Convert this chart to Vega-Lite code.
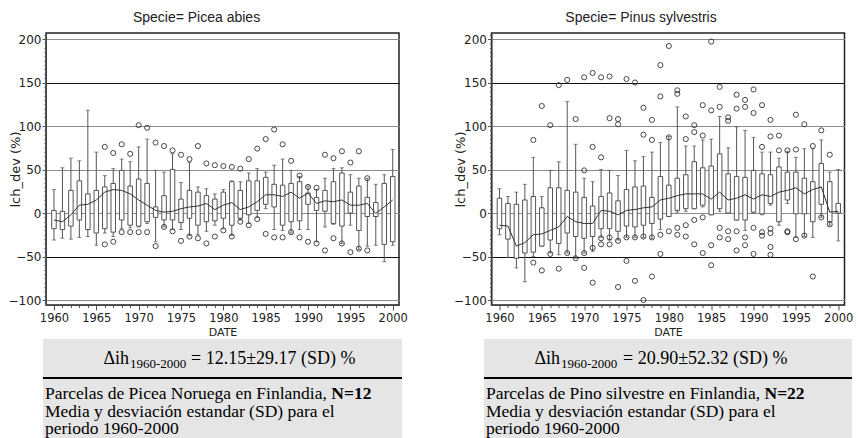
{
  "$schema": "https://vega.github.io/schema/vega-lite/v6.json",
  "background": "white",
  "padding": {"left": 7, "top": 10, "right": 2, "bottom": 0},
  "config": {
    "view": {"stroke": "#222", "strokeWidth": 1.5},
    "axis": {"labelFont": "DejaVu Sans", "labelFontSize": 12, "labelColor": "#222", "titleFont": "DejaVu Sans", "titleFontWeight": "normal", "titleColor": "#222", "tickColor": "#555", "domainColor": "#444"},
    "axisY": {"labelOverlap": false, "labelFlush": false},
    "title": {"font": "Liberation Sans", "fontSize": 14, "fontWeight": "normal", "color": "#222"}
  },
  "datasets": {
    "boxes": [
      {"sp":"Picea abies","year":1960,"lo":-31,"q1":-18,"q3":3,"hi":27,"mean":-8},
      {"sp":"Picea abies","year":1961,"lo":-29,"q1":-19,"q3":2,"hi":52,"mean":-10},
      {"sp":"Picea abies","year":1962,"lo":-30,"q1":-15,"q3":26,"hi":63,"mean":-2},
      {"sp":"Picea abies","year":1963,"lo":-28,"q1":-8,"q3":37,"hi":60,"mean":9},
      {"sp":"Picea abies","year":1964,"lo":-27,"q1":-19,"q3":22,"hi":118,"mean":10},
      {"sp":"Picea abies","year":1965,"lo":-37,"q1":-23,"q3":26,"hi":70,"mean":15},
      {"sp":"Picea abies","year":1966,"lo":-23,"q1":-18,"q3":30,"hi":43,"mean":24},
      {"sp":"Picea abies","year":1967,"lo":-27,"q1":-22,"q3":34,"hi":51,"mean":27},
      {"sp":"Picea abies","year":1968,"lo":-18,"q1":-8,"q3":49,"hi":62,"mean":26},
      {"sp":"Picea abies","year":1969,"lo":-17,"q1":-14,"q3":31,"hi":59,"mean":22},
      {"sp":"Picea abies","year":1970,"lo":-16,"q1":-15,"q3":39,"hi":76,"mean":15},
      {"sp":"Picea abies","year":1971,"lo":-12,"q1":-10,"q3":34,"hi":85,"mean":9},
      {"sp":"Picea abies","year":1972,"lo":-33,"q1":-5,"q3":7,"hi":49,"mean":3},
      {"sp":"Picea abies","year":1973,"lo":-16,"q1":-8,"q3":20,"hi":47,"mean":1},
      {"sp":"Picea abies","year":1974,"lo":-19,"q1":-8,"q3":50,"hi":68,"mean":2},
      {"sp":"Picea abies","year":1975,"lo":-19,"q1":-11,"q3":16,"hi":35,"mean":5},
      {"sp":"Picea abies","year":1976,"lo":-26,"q1":-6,"q3":26,"hi":58,"mean":7},
      {"sp":"Picea abies","year":1977,"lo":-25,"q1":-14,"q3":24,"hi":30,"mean":8},
      {"sp":"Picea abies","year":1978,"lo":-21,"q1":-10,"q3":20,"hi":28,"mean":11},
      {"sp":"Picea abies","year":1979,"lo":-14,"q1":-9,"q3":16,"hi":22,"mean":4},
      {"sp":"Picea abies","year":1980,"lo":-18,"q1":-6,"q3":24,"hi":27,"mean":9},
      {"sp":"Picea abies","year":1981,"lo":-26,"q1":-14,"q3":36,"hi":37,"mean":12},
      {"sp":"Picea abies","year":1982,"lo":-8,"q1":-6,"q3":26,"hi":36,"mean":4},
      {"sp":"Picea abies","year":1983,"lo":-12,"q1":-2,"q3":37,"hi":46,"mean":7},
      {"sp":"Picea abies","year":1984,"lo":-5,"q1":3,"q3":37,"hi":51,"mean":13},
      {"sp":"Picea abies","year":1985,"lo":5,"q1":10,"q3":41,"hi":47,"mean":21},
      {"sp":"Picea abies","year":1986,"lo":-19,"q1":7,"q3":33,"hi":55,"mean":21},
      {"sp":"Picea abies","year":1987,"lo":-20,"q1":-14,"q3":32,"hi":62,"mean":19},
      {"sp":"Picea abies","year":1988,"lo":-23,"q1":-10,"q3":34,"hi":49,"mean":24},
      {"sp":"Picea abies","year":1989,"lo":-19,"q1":-9,"q3":36,"hi":42,"mean":17},
      {"sp":"Picea abies","year":1990,"lo":-19,"q1":10,"q3":23,"hi":31,"mean":23},
      {"sp":"Picea abies","year":1991,"lo":-33,"q1":3,"q3":18,"hi":27,"mean":11},
      {"sp":"Picea abies","year":1992,"lo":-16,"q1":2,"q3":26,"hi":40,"mean":14},
      {"sp":"Picea abies","year":1993,"lo":-13,"q1":-12,"q3":36,"hi":51,"mean":13},
      {"sp":"Picea abies","year":1994,"lo":-35,"q1":-15,"q3":46,"hi":52,"mean":15},
      {"sp":"Picea abies","year":1995,"lo":-14,"q1":0,"q3":24,"hi":44,"mean":9},
      {"sp":"Picea abies","year":1996,"lo":-42,"q1":-20,"q3":31,"hi":40,"mean":9},
      {"sp":"Picea abies","year":1997,"lo":-38,"q1":-4,"q3":18,"hi":40,"mean":11},
      {"sp":"Picea abies","year":1998,"lo":-37,"q1":-4,"q3":12,"hi":33,"mean":-0.5},
      {"sp":"Picea abies","year":1999,"lo":-56,"q1":-36,"q3":34,"hi":44,"mean":7},
      {"sp":"Picea abies","year":2000,"lo":-37,"q1":-33,"q3":42,"hi":73,"mean":15},
      {"sp":"Pinus sylvestris","year":1960,"lo":-25,"q1":-18,"q3":17,"hi":28,"mean":-14},
      {"sp":"Pinus sylvestris","year":1961,"lo":-51,"q1":-30,"q3":11,"hi":19,"mean":-15},
      {"sp":"Pinus sylvestris","year":1962,"lo":-63,"q1":-52,"q3":10,"hi":24,"mean":-38},
      {"sp":"Pinus sylvestris","year":1963,"lo":-79,"q1":-46,"q3":15,"hi":33,"mean":-34},
      {"sp":"Pinus sylvestris","year":1964,"lo":-50,"q1":-45,"q3":19,"hi":64,"mean":-25},
      {"sp":"Pinus sylvestris","year":1965,"lo":-38,"q1":-38,"q3":6,"hi":19,"mean":-24},
      {"sp":"Pinus sylvestris","year":1966,"lo":-46,"q1":-31,"q3":29,"hi":49,"mean":-20},
      {"sp":"Pinus sylvestris","year":1967,"lo":-48,"q1":-35,"q3":29,"hi":59,"mean":-16},
      {"sp":"Pinus sylvestris","year":1968,"lo":-46,"q1":-23,"q3":26,"hi":128,"mean":-4},
      {"sp":"Pinus sylvestris","year":1969,"lo":-52,"q1":-27,"q3":24,"hi":79,"mean":-10},
      {"sp":"Pinus sylvestris","year":1970,"lo":-46,"q1":-29,"q3":18,"hi":40,"mean":-12},
      {"sp":"Pinus sylvestris","year":1971,"lo":-44,"q1":-27,"q3":8,"hi":36,"mean":-12},
      {"sp":"Pinus sylvestris","year":1972,"lo":-28,"q1":-18,"q3":19,"hi":50,"mean":3},
      {"sp":"Pinus sylvestris","year":1973,"lo":-31,"q1":-18,"q3":23,"hi":49,"mean":2},
      {"sp":"Pinus sylvestris","year":1974,"lo":-31,"q1":-21,"q3":14,"hi":43,"mean":-2},
      {"sp":"Pinus sylvestris","year":1975,"lo":-28,"q1":-15,"q3":27,"hi":72,"mean":3},
      {"sp":"Pinus sylvestris","year":1976,"lo":-28,"q1":-16,"q3":30,"hi":60,"mean":4},
      {"sp":"Pinus sylvestris","year":1977,"lo":-28,"q1":-14,"q3":31,"hi":65,"mean":6},
      {"sp":"Pinus sylvestris","year":1978,"lo":-29,"q1":-12,"q3":18,"hi":70,"mean":7},
      {"sp":"Pinus sylvestris","year":1979,"lo":-19,"q1":-7,"q3":42,"hi":81,"mean":15},
      {"sp":"Pinus sylvestris","year":1980,"lo":-4,"q1":-4,"q3":32,"hi":88,"mean":17},
      {"sp":"Pinus sylvestris","year":1981,"lo":1,"q1":3,"q3":40,"hi":122,"mean":20},
      {"sp":"Pinus sylvestris","year":1982,"lo":2,"q1":5,"q3":44,"hi":77,"mean":22},
      {"sp":"Pinus sylvestris","year":1983,"lo":5,"q1":5,"q3":59,"hi":77,"mean":22},
      {"sp":"Pinus sylvestris","year":1984,"lo":7,"q1":9,"q3":52,"hi":84,"mean":22},
      {"sp":"Pinus sylvestris","year":1985,"lo":-2,"q1":-2,"q3":54,"hi":85,"mean":16},
      {"sp":"Pinus sylvestris","year":1986,"lo":2,"q1":5,"q3":68,"hi":111,"mean":24},
      {"sp":"Pinus sylvestris","year":1987,"lo":0,"q1":0,"q3":45,"hi":75,"mean":15},
      {"sp":"Pinus sylvestris","year":1988,"lo":-8,"q1":-8,"q3":42,"hi":99,"mean":17},
      {"sp":"Pinus sylvestris","year":1989,"lo":-20,"q1":-8,"q3":41,"hi":95,"mean":21},
      {"sp":"Pinus sylvestris","year":1990,"lo":0,"q1":1,"q3":49,"hi":87,"mean":16},
      {"sp":"Pinus sylvestris","year":1991,"lo":-2,"q1":-1,"q3":45,"hi":70,"mean":21},
      {"sp":"Pinus sylvestris","year":1992,"lo":9,"q1":11,"q3":44,"hi":70,"mean":19},
      {"sp":"Pinus sylvestris","year":1993,"lo":-14,"q1":-10,"q3":53,"hi":63,"mean":24},
      {"sp":"Pinus sylvestris","year":1994,"lo":11,"q1":15,"q3":47,"hi":71,"mean":26},
      {"sp":"Pinus sylvestris","year":1995,"lo":-28,"q1":-1,"q3":47,"hi":64,"mean":29},
      {"sp":"Pinus sylvestris","year":1996,"lo":-27,"q1":-1,"q3":40,"hi":74,"mean":22},
      {"sp":"Pinus sylvestris","year":1997,"lo":-28,"q1":-10,"q3":36,"hi":74,"mean":27},
      {"sp":"Pinus sylvestris","year":1998,"lo":-5,"q1":10,"q3":57,"hi":84,"mean":30},
      {"sp":"Pinus sylvestris","year":1999,"lo":-14,"q1":-10,"q3":36,"hi":47,"mean":1},
      {"sp":"Pinus sylvestris","year":2000,"lo":-32,"q1":0,"q3":11,"hi":50,"mean":2}
    ],
    "outliers": [
      {"sp":"Picea abies","year":1966,"v":76},{"sp":"Picea abies","year":1966,"v":-36},
      {"sp":"Picea abies","year":1967,"v":69},{"sp":"Picea abies","year":1967,"v":-33},
      {"sp":"Picea abies","year":1968,"v":79},{"sp":"Picea abies","year":1968,"v":-22},
      {"sp":"Picea abies","year":1969,"v":68},{"sp":"Picea abies","year":1969,"v":-22},
      {"sp":"Picea abies","year":1970,"v":101},{"sp":"Picea abies","year":1970,"v":-22},
      {"sp":"Picea abies","year":1971,"v":98},{"sp":"Picea abies","year":1971,"v":-22},
      {"sp":"Picea abies","year":1972,"v":81},{"sp":"Picea abies","year":1972,"v":-38},
      {"sp":"Picea abies","year":1973,"v":77},{"sp":"Picea abies","year":1973,"v":-16},
      {"sp":"Picea abies","year":1974,"v":72},{"sp":"Picea abies","year":1974,"v":-21},
      {"sp":"Picea abies","year":1975,"v":67},{"sp":"Picea abies","year":1975,"v":-32},
      {"sp":"Picea abies","year":1976,"v":62},{"sp":"Picea abies","year":1976,"v":-27},
      {"sp":"Picea abies","year":1977,"v":77},{"sp":"Picea abies","year":1977,"v":-29},
      {"sp":"Picea abies","year":1978,"v":57},{"sp":"Picea abies","year":1978,"v":-35},
      {"sp":"Picea abies","year":1979,"v":55},{"sp":"Picea abies","year":1979,"v":-27},
      {"sp":"Picea abies","year":1980,"v":54},{"sp":"Picea abies","year":1980,"v":-20},
      {"sp":"Picea abies","year":1981,"v":53},{"sp":"Picea abies","year":1981,"v":-27},
      {"sp":"Picea abies","year":1982,"v":51},{"sp":"Picea abies","year":1982,"v":-10},
      {"sp":"Picea abies","year":1983,"v":62},{"sp":"Picea abies","year":1983,"v":-14},
      {"sp":"Picea abies","year":1984,"v":74},{"sp":"Picea abies","year":1984,"v":-7},
      {"sp":"Picea abies","year":1985,"v":85},{"sp":"Picea abies","year":1985,"v":-24},
      {"sp":"Picea abies","year":1986,"v":96},{"sp":"Picea abies","year":1986,"v":-28},
      {"sp":"Picea abies","year":1987,"v":79},{"sp":"Picea abies","year":1987,"v":-28},
      {"sp":"Picea abies","year":1988,"v":60},{"sp":"Picea abies","year":1988,"v":-22},
      {"sp":"Picea abies","year":1989,"v":43},{"sp":"Picea abies","year":1989,"v":-28},
      {"sp":"Picea abies","year":1990,"v":30},{"sp":"Picea abies","year":1990,"v":-33},
      {"sp":"Picea abies","year":1991,"v":29},{"sp":"Picea abies","year":1991,"v":-35},
      {"sp":"Picea abies","year":1992,"v":67},{"sp":"Picea abies","year":1992,"v":-43},
      {"sp":"Picea abies","year":1993,"v":63},{"sp":"Picea abies","year":1993,"v":-29},
      {"sp":"Picea abies","year":1994,"v":71},{"sp":"Picea abies","year":1994,"v":-35},
      {"sp":"Picea abies","year":1995,"v":58},{"sp":"Picea abies","year":1995,"v":-45},
      {"sp":"Picea abies","year":1996,"v":71},{"sp":"Picea abies","year":1996,"v":-41},
      {"sp":"Picea abies","year":1997,"v":40},{"sp":"Picea abies","year":1997,"v":-43},
      {"sp":"Pinus sylvestris","year":1964,"v":84},{"sp":"Pinus sylvestris","year":1964,"v":-57},
      {"sp":"Pinus sylvestris","year":1965,"v":123},{"sp":"Pinus sylvestris","year":1965,"v":-66},
      {"sp":"Pinus sylvestris","year":1966,"v":101},{"sp":"Pinus sylvestris","year":1966,"v":-47},
      {"sp":"Pinus sylvestris","year":1967,"v":147},{"sp":"Pinus sylvestris","year":1967,"v":-64},
      {"sp":"Pinus sylvestris","year":1968,"v":153},{"sp":"Pinus sylvestris","year":1968,"v":-46},
      {"sp":"Pinus sylvestris","year":1969,"v":108},{"sp":"Pinus sylvestris","year":1969,"v":-52},
      {"sp":"Pinus sylvestris","year":1970,"v":156},{"sp":"Pinus sylvestris","year":1970,"v":49},{"sp":"Pinus sylvestris","year":1970,"v":-46},{"sp":"Pinus sylvestris","year":1970,"v":-63},
      {"sp":"Pinus sylvestris","year":1971,"v":161},{"sp":"Pinus sylvestris","year":1971,"v":76},{"sp":"Pinus sylvestris","year":1971,"v":-40},{"sp":"Pinus sylvestris","year":1971,"v":-80},
      {"sp":"Pinus sylvestris","year":1972,"v":156},{"sp":"Pinus sylvestris","year":1972,"v":64},{"sp":"Pinus sylvestris","year":1972,"v":-29},{"sp":"Pinus sylvestris","year":1972,"v":-36},
      {"sp":"Pinus sylvestris","year":1973,"v":157},{"sp":"Pinus sylvestris","year":1973,"v":109},{"sp":"Pinus sylvestris","year":1973,"v":-28},{"sp":"Pinus sylvestris","year":1973,"v":-36},
      {"sp":"Pinus sylvestris","year":1974,"v":108},{"sp":"Pinus sylvestris","year":1974,"v":102},{"sp":"Pinus sylvestris","year":1974,"v":-32},{"sp":"Pinus sylvestris","year":1974,"v":-85},
      {"sp":"Pinus sylvestris","year":1975,"v":154},{"sp":"Pinus sylvestris","year":1975,"v":-28},{"sp":"Pinus sylvestris","year":1975,"v":-55},
      {"sp":"Pinus sylvestris","year":1976,"v":150},{"sp":"Pinus sylvestris","year":1976,"v":-28},{"sp":"Pinus sylvestris","year":1976,"v":-78},
      {"sp":"Pinus sylvestris","year":1977,"v":121},{"sp":"Pinus sylvestris","year":1977,"v":90},{"sp":"Pinus sylvestris","year":1977,"v":-27},{"sp":"Pinus sylvestris","year":1977,"v":-100},
      {"sp":"Pinus sylvestris","year":1978,"v":107},{"sp":"Pinus sylvestris","year":1978,"v":84},{"sp":"Pinus sylvestris","year":1978,"v":-28},{"sp":"Pinus sylvestris","year":1978,"v":-73},
      {"sp":"Pinus sylvestris","year":1979,"v":170},{"sp":"Pinus sylvestris","year":1979,"v":134},{"sp":"Pinus sylvestris","year":1979,"v":-25},{"sp":"Pinus sylvestris","year":1979,"v":-47},
      {"sp":"Pinus sylvestris","year":1980,"v":192},{"sp":"Pinus sylvestris","year":1980,"v":87},{"sp":"Pinus sylvestris","year":1980,"v":-21},
      {"sp":"Pinus sylvestris","year":1981,"v":141},{"sp":"Pinus sylvestris","year":1981,"v":137},{"sp":"Pinus sylvestris","year":1981,"v":-17},{"sp":"Pinus sylvestris","year":1981,"v":-25},
      {"sp":"Pinus sylvestris","year":1982,"v":111},{"sp":"Pinus sylvestris","year":1982,"v":85},{"sp":"Pinus sylvestris","year":1982,"v":-14},{"sp":"Pinus sylvestris","year":1982,"v":-27},
      {"sp":"Pinus sylvestris","year":1983,"v":101},{"sp":"Pinus sylvestris","year":1983,"v":93},{"sp":"Pinus sylvestris","year":1983,"v":-8},{"sp":"Pinus sylvestris","year":1983,"v":-36},
      {"sp":"Pinus sylvestris","year":1984,"v":124},{"sp":"Pinus sylvestris","year":1984,"v":89},{"sp":"Pinus sylvestris","year":1984,"v":-5},{"sp":"Pinus sylvestris","year":1984,"v":-46},
      {"sp":"Pinus sylvestris","year":1985,"v":197},{"sp":"Pinus sylvestris","year":1985,"v":118},{"sp":"Pinus sylvestris","year":1985,"v":-37},{"sp":"Pinus sylvestris","year":1985,"v":-60},
      {"sp":"Pinus sylvestris","year":1986,"v":145},{"sp":"Pinus sylvestris","year":1986,"v":122},{"sp":"Pinus sylvestris","year":1986,"v":-17},{"sp":"Pinus sylvestris","year":1986,"v":-28},
      {"sp":"Pinus sylvestris","year":1987,"v":106},{"sp":"Pinus sylvestris","year":1987,"v":110},{"sp":"Pinus sylvestris","year":1987,"v":-21},{"sp":"Pinus sylvestris","year":1987,"v":-30},
      {"sp":"Pinus sylvestris","year":1988,"v":136},{"sp":"Pinus sylvestris","year":1988,"v":120},{"sp":"Pinus sylvestris","year":1988,"v":-21},{"sp":"Pinus sylvestris","year":1988,"v":-43},
      {"sp":"Pinus sylvestris","year":1989,"v":130},{"sp":"Pinus sylvestris","year":1989,"v":122},{"sp":"Pinus sylvestris","year":1989,"v":-28},{"sp":"Pinus sylvestris","year":1989,"v":-37},
      {"sp":"Pinus sylvestris","year":1990,"v":142},{"sp":"Pinus sylvestris","year":1990,"v":115},{"sp":"Pinus sylvestris","year":1990,"v":-17},{"sp":"Pinus sylvestris","year":1990,"v":-47},
      {"sp":"Pinus sylvestris","year":1991,"v":124},{"sp":"Pinus sylvestris","year":1991,"v":76},{"sp":"Pinus sylvestris","year":1991,"v":-22},{"sp":"Pinus sylvestris","year":1991,"v":-26},
      {"sp":"Pinus sylvestris","year":1992,"v":107},{"sp":"Pinus sylvestris","year":1992,"v":88},{"sp":"Pinus sylvestris","year":1992,"v":-18},{"sp":"Pinus sylvestris","year":1992,"v":-23},{"sp":"Pinus sylvestris","year":1992,"v":-39},{"sp":"Pinus sylvestris","year":1992,"v":-48},
      {"sp":"Pinus sylvestris","year":1993,"v":89},{"sp":"Pinus sylvestris","year":1993,"v":72},
      {"sp":"Pinus sylvestris","year":1994,"v":72},{"sp":"Pinus sylvestris","year":1994,"v":-21},{"sp":"Pinus sylvestris","year":1994,"v":-22},
      {"sp":"Pinus sylvestris","year":1995,"v":113},{"sp":"Pinus sylvestris","year":1995,"v":73},{"sp":"Pinus sylvestris","year":1995,"v":-30},
      {"sp":"Pinus sylvestris","year":1996,"v":102},{"sp":"Pinus sylvestris","year":1996,"v":-26},
      {"sp":"Pinus sylvestris","year":1997,"v":77},{"sp":"Pinus sylvestris","year":1997,"v":-73},
      {"sp":"Pinus sylvestris","year":1998,"v":95},{"sp":"Pinus sylvestris","year":1998,"v":-5},
      {"sp":"Pinus sylvestris","year":1999,"v":67},{"sp":"Pinus sylvestris","year":1999,"v":-13}
    ],
    "notes": [
      {"sp":"Picea abies","line":0,"part":"lead","text":"Δih"},
      {"sp":"Picea abies","line":0,"part":"sub","text":"1960-2000"},
      {"sp":"Picea abies","line":0,"part":"rest","text":"= 12.15±29.17 (SD) %"},
      {"sp":"Picea abies","line":2,"part":"body","text":"Parcelas de Picea Noruega en Finlandia,"},
      {"sp":"Picea abies","line":2,"part":"bold","text":"N=12"},
      {"sp":"Picea abies","line":3,"part":"body","text":"Media y desviación estandar (SD) para el"},
      {"sp":"Picea abies","line":4,"part":"body","text":"periodo 1960-2000"},
      {"sp":"Pinus sylvestris","line":0,"part":"lead","text":"Δih"},
      {"sp":"Pinus sylvestris","line":0,"part":"sub","text":"1960-2000"},
      {"sp":"Pinus sylvestris","line":0,"part":"rest","text":"= 20.90±52.32 (SD) %"},
      {"sp":"Pinus sylvestris","line":2,"part":"body","text":"Parcelas de Pino silvestre en Finlandia,"},
      {"sp":"Pinus sylvestris","line":2,"part":"bold","text":"N=22"},
      {"sp":"Pinus sylvestris","line":3,"part":"body","text":"Media y desviación estandar (SD) para el"},
      {"sp":"Pinus sylvestris","line":4,"part":"body","text":"periodo 1960-2000"}
    ]
  },
  "hconcat": [
    {
      "vconcat": [
        {
          "width": 353, "height": 272,
          "title": {"text": "Specie= Picea abies", "anchor": "middle", "frame": "group", "dx": -26, "offset": -7.5, "baseline": "alphabetic"},
          "encoding": {
            "x": {"field": "year", "type": "quantitative", "title": "DATE",
              "scale": {"domain": [1959.65, 2000.15], "nice": false, "zero": false},
              "axis": {"values": [1960,1961,1962,1963,1964,1965,1966,1967,1968,1969,1970,1971,1972,1973,1974,1975,1976,1977,1978,1979,1980,1981,1982,1983,1984,1985,1986,1987,1988,1989,1990,1991,1992,1993,1994,1995,1996,1997,1998,1999,2000],
                "format": "d", "labelExpr": "datum.value % 5 == 0 ? datum.label : ''",
                "tickSize": {"condition": {"test": "datum.value % 5 == 0", "value": 5}, "value": 2.5},
                "labelOverlap": false, "labelFlush": false, "labelPadding": 2, "grid": false,
                "titleFontSize": 11, "titlePadding": 3, "labelFontSize": 11.5}}
          },
          "layer": [
            {"data": {"name": "boxes"}, "transform": [{"filter": "datum.sp == 'Picea abies'"}],
             "mark": {"type": "rule", "color": "#555", "strokeWidth": 1},
             "encoding": {
               "y": {"field": "lo", "type": "quantitative", "title": "lch_dev (%)",
                 "scale": {"domain": [-105.7, 206.9], "nice": false, "zero": false},
                 "axis": {"values": [-100,-95,-90,-85,-80,-75,-70,-65,-60,-55,-50,-45,-40,-35,-30,-25,-20,-15,-10,-5,0,5,10,15,20,25,30,35,40,45,50,55,60,65,70,75,80,85,90,95,100,105,110,115,120,125,130,135,140,145,150,155,160,165,170,175,180,185,190,195,200,205],
                   "labelExpr": "datum.value % 50 == 0 ? datum.label : ''",
                   "tickSize": {"condition": {"test": "datum.value % 50 == 0", "value": 4}, "value": 2}, "grid": true,
                   "gridColor": {"condition": {"test": "datum.value == 150 || datum.value == -50", "value": "#111"}, "value": "#8c8c8c"},
                   "gridOpacity": {"condition": {"test": "datum.value % 50 == 0", "value": 1}, "value": 0},
                   "labelOverlap": false, "labelFlush": false, "labelPadding": 1, "titleFontSize": 13, "titleX": -24}},
               "y2": {"field": "hi"}}},
            {"data": {"name": "boxes"}, "transform": [{"filter": "datum.sp == 'Picea abies'"}],
             "mark": {"type": "tick", "orient": "horizontal", "size": 4, "thickness": 1, "color": "#555"},
             "encoding": {"y": {"field": "lo", "type": "quantitative", "title": "lch_dev (%)", "scale": {"domain": [-105.7, 206.9], "nice": false, "zero": false},
                 "axis": {"values": [-100,-95,-90,-85,-80,-75,-70,-65,-60,-55,-50,-45,-40,-35,-30,-25,-20,-15,-10,-5,0,5,10,15,20,25,30,35,40,45,50,55,60,65,70,75,80,85,90,95,100,105,110,115,120,125,130,135,140,145,150,155,160,165,170,175,180,185,190,195,200,205],
                   "labelExpr": "datum.value % 50 == 0 ? datum.label : ''",
                   "tickSize": {"condition": {"test": "datum.value % 50 == 0", "value": 4}, "value": 2}, "grid": true,
                   "gridColor": {"condition": {"test": "datum.value == 150 || datum.value == -50", "value": "#111"}, "value": "#8c8c8c"},
                   "gridOpacity": {"condition": {"test": "datum.value % 50 == 0", "value": 1}, "value": 0},
                   "labelOverlap": false, "labelFlush": false, "labelPadding": 1, "titleFontSize": 13, "titleX": -24}}}},
            {"data": {"name": "boxes"}, "transform": [{"filter": "datum.sp == 'Picea abies'"}],
             "mark": {"type": "tick", "orient": "horizontal", "size": 4, "thickness": 1, "color": "#555"},
             "encoding": {"y": {"field": "hi", "type": "quantitative", "title": "lch_dev (%)", "scale": {"domain": [-105.7, 206.9], "nice": false, "zero": false},
                 "axis": {"values": [-100,-95,-90,-85,-80,-75,-70,-65,-60,-55,-50,-45,-40,-35,-30,-25,-20,-15,-10,-5,0,5,10,15,20,25,30,35,40,45,50,55,60,65,70,75,80,85,90,95,100,105,110,115,120,125,130,135,140,145,150,155,160,165,170,175,180,185,190,195,200,205],
                   "labelExpr": "datum.value % 50 == 0 ? datum.label : ''",
                   "tickSize": {"condition": {"test": "datum.value % 50 == 0", "value": 4}, "value": 2}, "grid": true,
                   "gridColor": {"condition": {"test": "datum.value == 150 || datum.value == -50", "value": "#111"}, "value": "#8c8c8c"},
                   "gridOpacity": {"condition": {"test": "datum.value % 50 == 0", "value": 1}, "value": 0},
                   "labelOverlap": false, "labelFlush": false, "labelPadding": 1, "titleFontSize": 13, "titleX": -24}}}},
            {"data": {"name": "boxes"}, "transform": [{"filter": "datum.sp == 'Picea abies'"}],
             "mark": {"type": "bar", "width": 4.5, "fill": "white", "stroke": "#555", "strokeWidth": 1},
             "encoding": {"y": {"field": "q1", "type": "quantitative", "title": "lch_dev (%)", "scale": {"domain": [-105.7, 206.9], "nice": false, "zero": false},
                 "axis": {"values": [-100,-95,-90,-85,-80,-75,-70,-65,-60,-55,-50,-45,-40,-35,-30,-25,-20,-15,-10,-5,0,5,10,15,20,25,30,35,40,45,50,55,60,65,70,75,80,85,90,95,100,105,110,115,120,125,130,135,140,145,150,155,160,165,170,175,180,185,190,195,200,205],
                   "labelExpr": "datum.value % 50 == 0 ? datum.label : ''",
                   "tickSize": {"condition": {"test": "datum.value % 50 == 0", "value": 4}, "value": 2}, "grid": true,
                   "gridColor": {"condition": {"test": "datum.value == 150 || datum.value == -50", "value": "#111"}, "value": "#8c8c8c"},
                   "gridOpacity": {"condition": {"test": "datum.value % 50 == 0", "value": 1}, "value": 0},
                   "labelOverlap": false, "labelFlush": false, "labelPadding": 1, "titleFontSize": 13, "titleX": -24}}, "y2": {"field": "q3"}}},
            {"data": {"name": "boxes"}, "transform": [{"filter": "datum.sp == 'Picea abies'"}],
             "mark": {"type": "line", "color": "#333", "strokeWidth": 1},
             "encoding": {"y": {"field": "mean", "type": "quantitative", "title": "lch_dev (%)", "scale": {"domain": [-105.7, 206.9], "nice": false, "zero": false},
                 "axis": {"values": [-100,-95,-90,-85,-80,-75,-70,-65,-60,-55,-50,-45,-40,-35,-30,-25,-20,-15,-10,-5,0,5,10,15,20,25,30,35,40,45,50,55,60,65,70,75,80,85,90,95,100,105,110,115,120,125,130,135,140,145,150,155,160,165,170,175,180,185,190,195,200,205],
                   "labelExpr": "datum.value % 50 == 0 ? datum.label : ''",
                   "tickSize": {"condition": {"test": "datum.value % 50 == 0", "value": 4}, "value": 2}, "grid": true,
                   "gridColor": {"condition": {"test": "datum.value == 150 || datum.value == -50", "value": "#111"}, "value": "#8c8c8c"},
                   "gridOpacity": {"condition": {"test": "datum.value % 50 == 0", "value": 1}, "value": 0},
                   "labelOverlap": false, "labelFlush": false, "labelPadding": 1, "titleFontSize": 13, "titleX": -24}}}},
            {"data": {"name": "outliers"}, "transform": [{"filter": "datum.sp == 'Picea abies'"}],
             "mark": {"type": "point", "shape": "circle", "filled": false, "size": 26, "stroke": "#333", "strokeWidth": 0.9, "opacity": 1},
             "encoding": {"y": {"field": "v", "type": "quantitative", "title": "lch_dev (%)", "scale": {"domain": [-105.7, 206.9], "nice": false, "zero": false},
                 "axis": {"values": [-100,-95,-90,-85,-80,-75,-70,-65,-60,-55,-50,-45,-40,-35,-30,-25,-20,-15,-10,-5,0,5,10,15,20,25,30,35,40,45,50,55,60,65,70,75,80,85,90,95,100,105,110,115,120,125,130,135,140,145,150,155,160,165,170,175,180,185,190,195,200,205],
                   "labelExpr": "datum.value % 50 == 0 ? datum.label : ''",
                   "tickSize": {"condition": {"test": "datum.value % 50 == 0", "value": 4}, "value": 2}, "grid": true,
                   "gridColor": {"condition": {"test": "datum.value == 150 || datum.value == -50", "value": "#111"}, "value": "#8c8c8c"},
                   "gridOpacity": {"condition": {"test": "datum.value % 50 == 0", "value": 1}, "value": 0},
                   "labelOverlap": false, "labelFlush": false, "labelPadding": 1, "titleFontSize": 13, "titleX": -24}}}}
          ]
        },
        {
          "width": 359, "height": 99,
          "view": {"fill": "#e5e5e5", "stroke": null},
          "encoding": {
            "x": {"datum": 0, "type": "quantitative", "scale": {"domain": [0, 1]}, "axis": null},
            "y": {"field": "line", "type": "quantitative", "scale": {"domain": [0, 4], "range": [25, 95]}, "axis": null}
          },
          "layer": [
            {"data": {"values": [{"sep": 0.8}]},
             "mark": {"type": "rule", "color": "#000", "strokeWidth": 2},
             "encoding": {"y": {"field": "sep", "type": "quantitative"}, "x": {"datum": 0}, "x2": {"datum": 1}}},
            {"data": {"name": "notes"}, "transform": [{"filter": "datum.sp == 'Picea abies' && datum.part == 'lead'"}],
             "mark": {"type": "text", "align": "right", "baseline": "alphabetic", "font": "Liberation Serif", "fontSize": 18, "dx": 86, "color": "#000"},
             "encoding": {"text": {"field": "text"}}},
            {"data": {"name": "notes"}, "transform": [{"filter": "datum.sp == 'Picea abies' && datum.part == 'sub'"}],
             "mark": {"type": "text", "align": "left", "baseline": "alphabetic", "font": "Liberation Serif", "fontSize": 13, "dx": 87, "dy": 3.5, "color": "#000"},
             "encoding": {"text": {"field": "text"}}},
            {"data": {"name": "notes"}, "transform": [{"filter": "datum.sp == 'Picea abies' && datum.part == 'rest'"}],
             "mark": {"type": "text", "align": "left", "baseline": "alphabetic", "font": "Liberation Serif", "fontSize": 18, "dx": 148, "color": "#000"},
             "encoding": {"text": {"field": "text"}}},
            {"data": {"name": "notes"}, "transform": [{"filter": "datum.sp == 'Picea abies' && datum.part == 'body'"}],
             "mark": {"type": "text", "align": "left", "baseline": "alphabetic", "font": "Liberation Serif", "fontSize": 17.5, "dx": 2, "color": "#000"},
             "encoding": {"text": {"field": "text"}}},
            {"data": {"name": "notes"}, "transform": [{"filter": "datum.sp == 'Picea abies' && datum.part == 'bold'"}],
             "mark": {"type": "text", "align": "left", "baseline": "alphabetic", "font": "Liberation Serif", "fontSize": 17.5, "fontWeight": "bold", "dx": 288.3, "color": "#000"},
             "encoding": {"text": {"field": "text"}}}
          ]
        }
      ],
      "spacing": 34, "bounds": "flush", "center": true
    },
    {
      "vconcat": [
        {
          "width": 353, "height": 272,
          "title": {"text": "Specie= Pinus sylvestris", "anchor": "middle", "frame": "group", "dx": -27, "offset": -7.5, "baseline": "alphabetic"},
          "encoding": {
            "x": {"field": "year", "type": "quantitative", "title": "DATE",
              "scale": {"domain": [1959.65, 2000.15], "nice": false, "zero": false},
              "axis": {"values": [1960,1961,1962,1963,1964,1965,1966,1967,1968,1969,1970,1971,1972,1973,1974,1975,1976,1977,1978,1979,1980,1981,1982,1983,1984,1985,1986,1987,1988,1989,1990,1991,1992,1993,1994,1995,1996,1997,1998,1999,2000],
                "format": "d", "labelExpr": "datum.value % 5 == 0 ? datum.label : ''",
                "tickSize": {"condition": {"test": "datum.value % 5 == 0", "value": 5}, "value": 2.5},
                "labelOverlap": false, "labelFlush": false, "labelPadding": 2, "grid": false,
                "titleFontSize": 11, "titlePadding": 3, "labelFontSize": 11.5}}
          },
          "layer": [
            {"data": {"name": "boxes"}, "transform": [{"filter": "datum.sp == 'Pinus sylvestris'"}],
             "mark": {"type": "rule", "color": "#555", "strokeWidth": 1},
             "encoding": {
               "y": {"field": "lo", "type": "quantitative", "title": "lch_dev (%)",
                 "scale": {"domain": [-105.7, 206.9], "nice": false, "zero": false},
                 "axis": {"values": [-100,-95,-90,-85,-80,-75,-70,-65,-60,-55,-50,-45,-40,-35,-30,-25,-20,-15,-10,-5,0,5,10,15,20,25,30,35,40,45,50,55,60,65,70,75,80,85,90,95,100,105,110,115,120,125,130,135,140,145,150,155,160,165,170,175,180,185,190,195,200,205],
                   "labelExpr": "datum.value % 50 == 0 ? datum.label : ''",
                   "tickSize": {"condition": {"test": "datum.value % 50 == 0", "value": 4}, "value": 2}, "grid": true,
                   "gridColor": {"condition": {"test": "datum.value == 150 || datum.value == -50", "value": "#111"}, "value": "#8c8c8c"},
                   "gridOpacity": {"condition": {"test": "datum.value % 50 == 0", "value": 1}, "value": 0},
                   "labelOverlap": false, "labelFlush": false, "labelPadding": 1, "titleFontSize": 13, "titleX": -24}},
               "y2": {"field": "hi"}}},
            {"data": {"name": "boxes"}, "transform": [{"filter": "datum.sp == 'Pinus sylvestris'"}],
             "mark": {"type": "tick", "orient": "horizontal", "size": 4, "thickness": 1, "color": "#555"},
             "encoding": {"y": {"field": "lo", "type": "quantitative", "title": "lch_dev (%)", "scale": {"domain": [-105.7, 206.9], "nice": false, "zero": false},
                 "axis": {"values": [-100,-95,-90,-85,-80,-75,-70,-65,-60,-55,-50,-45,-40,-35,-30,-25,-20,-15,-10,-5,0,5,10,15,20,25,30,35,40,45,50,55,60,65,70,75,80,85,90,95,100,105,110,115,120,125,130,135,140,145,150,155,160,165,170,175,180,185,190,195,200,205],
                   "labelExpr": "datum.value % 50 == 0 ? datum.label : ''",
                   "tickSize": {"condition": {"test": "datum.value % 50 == 0", "value": 4}, "value": 2}, "grid": true,
                   "gridColor": {"condition": {"test": "datum.value == 150 || datum.value == -50", "value": "#111"}, "value": "#8c8c8c"},
                   "gridOpacity": {"condition": {"test": "datum.value % 50 == 0", "value": 1}, "value": 0},
                   "labelOverlap": false, "labelFlush": false, "labelPadding": 1, "titleFontSize": 13, "titleX": -24}}}},
            {"data": {"name": "boxes"}, "transform": [{"filter": "datum.sp == 'Pinus sylvestris'"}],
             "mark": {"type": "tick", "orient": "horizontal", "size": 4, "thickness": 1, "color": "#555"},
             "encoding": {"y": {"field": "hi", "type": "quantitative", "title": "lch_dev (%)", "scale": {"domain": [-105.7, 206.9], "nice": false, "zero": false},
                 "axis": {"values": [-100,-95,-90,-85,-80,-75,-70,-65,-60,-55,-50,-45,-40,-35,-30,-25,-20,-15,-10,-5,0,5,10,15,20,25,30,35,40,45,50,55,60,65,70,75,80,85,90,95,100,105,110,115,120,125,130,135,140,145,150,155,160,165,170,175,180,185,190,195,200,205],
                   "labelExpr": "datum.value % 50 == 0 ? datum.label : ''",
                   "tickSize": {"condition": {"test": "datum.value % 50 == 0", "value": 4}, "value": 2}, "grid": true,
                   "gridColor": {"condition": {"test": "datum.value == 150 || datum.value == -50", "value": "#111"}, "value": "#8c8c8c"},
                   "gridOpacity": {"condition": {"test": "datum.value % 50 == 0", "value": 1}, "value": 0},
                   "labelOverlap": false, "labelFlush": false, "labelPadding": 1, "titleFontSize": 13, "titleX": -24}}}},
            {"data": {"name": "boxes"}, "transform": [{"filter": "datum.sp == 'Pinus sylvestris'"}],
             "mark": {"type": "bar", "width": 4.5, "fill": "white", "stroke": "#555", "strokeWidth": 1},
             "encoding": {"y": {"field": "q1", "type": "quantitative", "title": "lch_dev (%)", "scale": {"domain": [-105.7, 206.9], "nice": false, "zero": false},
                 "axis": {"values": [-100,-95,-90,-85,-80,-75,-70,-65,-60,-55,-50,-45,-40,-35,-30,-25,-20,-15,-10,-5,0,5,10,15,20,25,30,35,40,45,50,55,60,65,70,75,80,85,90,95,100,105,110,115,120,125,130,135,140,145,150,155,160,165,170,175,180,185,190,195,200,205],
                   "labelExpr": "datum.value % 50 == 0 ? datum.label : ''",
                   "tickSize": {"condition": {"test": "datum.value % 50 == 0", "value": 4}, "value": 2}, "grid": true,
                   "gridColor": {"condition": {"test": "datum.value == 150 || datum.value == -50", "value": "#111"}, "value": "#8c8c8c"},
                   "gridOpacity": {"condition": {"test": "datum.value % 50 == 0", "value": 1}, "value": 0},
                   "labelOverlap": false, "labelFlush": false, "labelPadding": 1, "titleFontSize": 13, "titleX": -24}}, "y2": {"field": "q3"}}},
            {"data": {"name": "boxes"}, "transform": [{"filter": "datum.sp == 'Pinus sylvestris'"}],
             "mark": {"type": "line", "color": "#333", "strokeWidth": 1},
             "encoding": {"y": {"field": "mean", "type": "quantitative", "title": "lch_dev (%)", "scale": {"domain": [-105.7, 206.9], "nice": false, "zero": false},
                 "axis": {"values": [-100,-95,-90,-85,-80,-75,-70,-65,-60,-55,-50,-45,-40,-35,-30,-25,-20,-15,-10,-5,0,5,10,15,20,25,30,35,40,45,50,55,60,65,70,75,80,85,90,95,100,105,110,115,120,125,130,135,140,145,150,155,160,165,170,175,180,185,190,195,200,205],
                   "labelExpr": "datum.value % 50 == 0 ? datum.label : ''",
                   "tickSize": {"condition": {"test": "datum.value % 50 == 0", "value": 4}, "value": 2}, "grid": true,
                   "gridColor": {"condition": {"test": "datum.value == 150 || datum.value == -50", "value": "#111"}, "value": "#8c8c8c"},
                   "gridOpacity": {"condition": {"test": "datum.value % 50 == 0", "value": 1}, "value": 0},
                   "labelOverlap": false, "labelFlush": false, "labelPadding": 1, "titleFontSize": 13, "titleX": -24}}}},
            {"data": {"name": "outliers"}, "transform": [{"filter": "datum.sp == 'Pinus sylvestris'"}],
             "mark": {"type": "point", "shape": "circle", "filled": false, "size": 26, "stroke": "#333", "strokeWidth": 0.9, "opacity": 1},
             "encoding": {"y": {"field": "v", "type": "quantitative", "title": "lch_dev (%)", "scale": {"domain": [-105.7, 206.9], "nice": false, "zero": false},
                 "axis": {"values": [-100,-95,-90,-85,-80,-75,-70,-65,-60,-55,-50,-45,-40,-35,-30,-25,-20,-15,-10,-5,0,5,10,15,20,25,30,35,40,45,50,55,60,65,70,75,80,85,90,95,100,105,110,115,120,125,130,135,140,145,150,155,160,165,170,175,180,185,190,195,200,205],
                   "labelExpr": "datum.value % 50 == 0 ? datum.label : ''",
                   "tickSize": {"condition": {"test": "datum.value % 50 == 0", "value": 4}, "value": 2}, "grid": true,
                   "gridColor": {"condition": {"test": "datum.value == 150 || datum.value == -50", "value": "#111"}, "value": "#8c8c8c"},
                   "gridOpacity": {"condition": {"test": "datum.value % 50 == 0", "value": 1}, "value": 0},
                   "labelOverlap": false, "labelFlush": false, "labelPadding": 1, "titleFontSize": 13, "titleX": -24}}}}
          ]
        },
        {
          "width": 368, "height": 99,
          "view": {"fill": "#e5e5e5", "stroke": null},
          "encoding": {
            "x": {"datum": 0, "type": "quantitative", "scale": {"domain": [0, 1]}, "axis": null},
            "y": {"field": "line", "type": "quantitative", "scale": {"domain": [0, 4], "range": [25, 95]}, "axis": null}
          },
          "layer": [
            {"data": {"values": [{"sep": 0.8}]},
             "mark": {"type": "rule", "color": "#000", "strokeWidth": 2},
             "encoding": {"y": {"field": "sep", "type": "quantitative"}, "x": {"datum": 0}, "x2": {"datum": 1}}},
            {"data": {"name": "notes"}, "transform": [{"filter": "datum.sp == 'Pinus sylvestris' && datum.part == 'lead'"}],
             "mark": {"type": "text", "align": "right", "baseline": "alphabetic", "font": "Liberation Serif", "fontSize": 18, "dx": 76, "color": "#000"},
             "encoding": {"text": {"field": "text"}}},
            {"data": {"name": "notes"}, "transform": [{"filter": "datum.sp == 'Pinus sylvestris' && datum.part == 'sub'"}],
             "mark": {"type": "text", "align": "left", "baseline": "alphabetic", "font": "Liberation Serif", "fontSize": 13, "dx": 77, "dy": 3.5, "color": "#000"},
             "encoding": {"text": {"field": "text"}}},
            {"data": {"name": "notes"}, "transform": [{"filter": "datum.sp == 'Pinus sylvestris' && datum.part == 'rest'"}],
             "mark": {"type": "text", "align": "left", "baseline": "alphabetic", "font": "Liberation Serif", "fontSize": 18, "dx": 139, "color": "#000"},
             "encoding": {"text": {"field": "text"}}},
            {"data": {"name": "notes"}, "transform": [{"filter": "datum.sp == 'Pinus sylvestris' && datum.part == 'body'"}],
             "mark": {"type": "text", "align": "left", "baseline": "alphabetic", "font": "Liberation Serif", "fontSize": 17.5, "dx": 2, "color": "#000"},
             "encoding": {"text": {"field": "text"}}},
            {"data": {"name": "notes"}, "transform": [{"filter": "datum.sp == 'Pinus sylvestris' && datum.part == 'bold'"}],
             "mark": {"type": "text", "align": "left", "baseline": "alphabetic", "font": "Liberation Serif", "fontSize": 17.5, "fontWeight": "bold", "dx": 280.5, "color": "#000"},
             "encoding": {"text": {"field": "text"}}}
          ]
        }
      ],
      "spacing": 34, "bounds": "flush", "center": true
    }
  ],
  "spacing": 43
}
